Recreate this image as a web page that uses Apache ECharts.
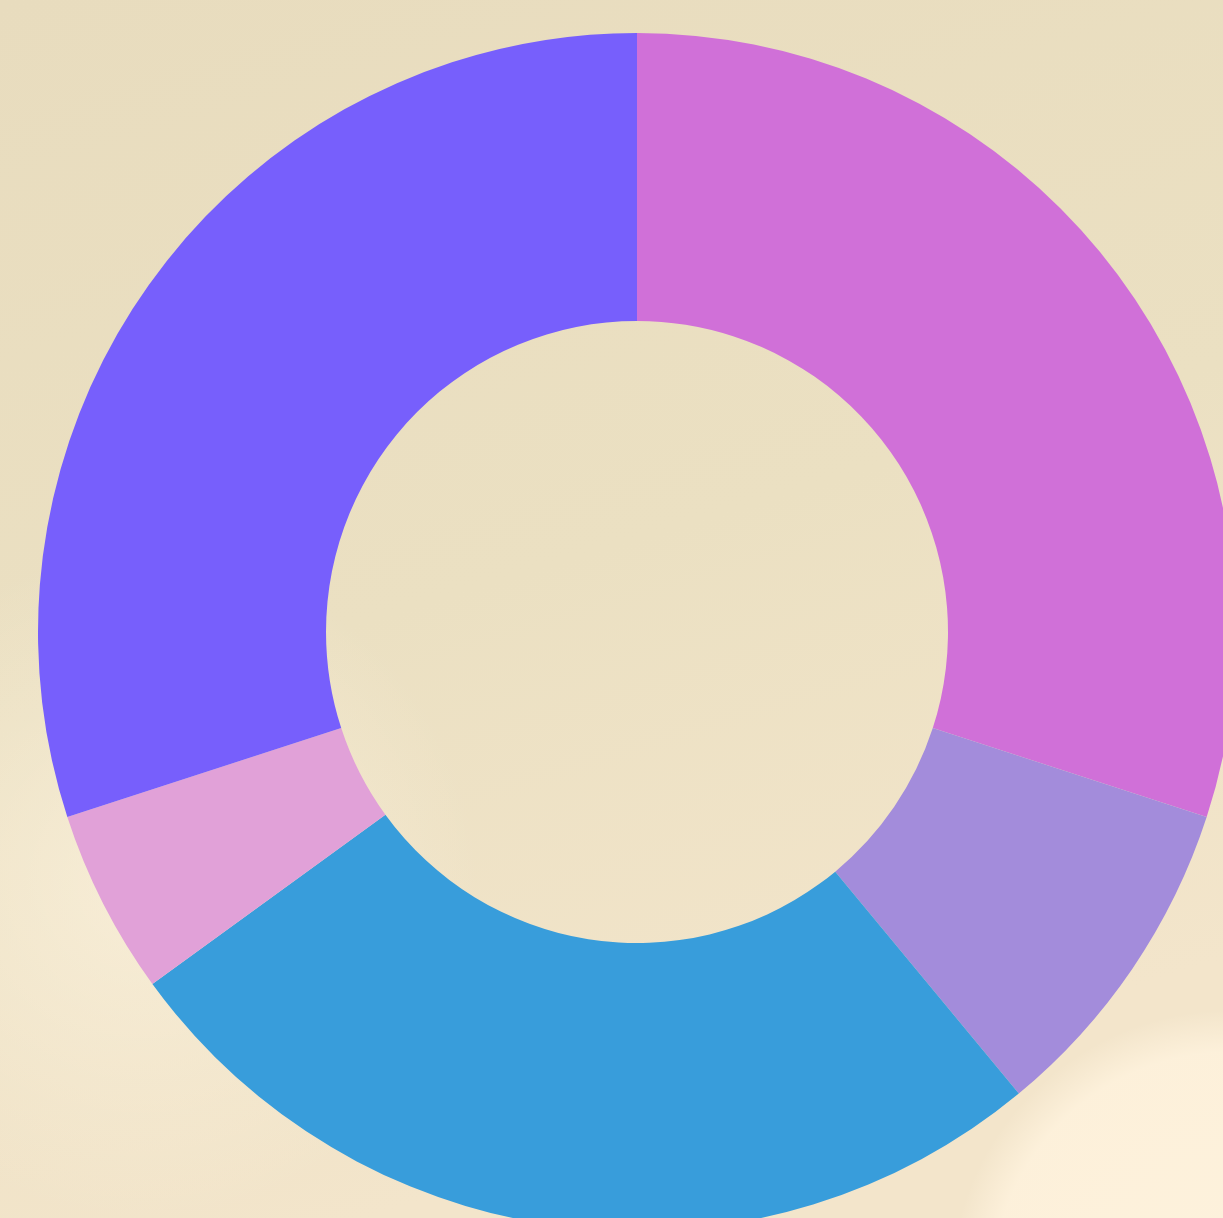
<!DOCTYPE html>
<html>
<head>
<meta charset="utf-8">
<style>
  html, body { margin: 0; padding: 0; width: 1223px; height: 1218px; overflow: hidden; }
  #chart { width: 1223px; height: 1218px; }
</style>
<script src="https://cdn.jsdelivr.net/npm/echarts@6/dist/echarts.min.js"></script>
</head>
<body>
<div id="chart"></div>
<script>
// 扇区名称与占比
const categories = ['A', 'B', 'C', 'D', 'E'];
const values = [30, 9, 26, 5, 30];
const colors = ['#D070D8', '#A38CDB', '#389DDB', '#E1A1D8', '#775FFC'];

const chart = echarts.init(document.getElementById('chart'));

const option = {
  backgroundColor: {
    type: 'linear', x: 0, y: 0, x2: 0.3, y2: 1,
    colorStops: [
      { offset: 0, color: '#E8DCBE' },
      { offset: 0.55, color: '#EBE0C2' },
      { offset: 1, color: '#F3E5CB' }
    ]
  },
  graphic: [
    {
      // 左下角淡色建筑的柔和近似
      type: 'rect',
      silent: true,
      shape: { x: 0, y: 480, width: 480, height: 738 },
      style: {
        fill: {
          type: 'radial', x: 0.3, y: 0.55, r: 0.7,
          colorStops: [
            { offset: 0, color: 'rgba(255,246,228,0.55)' },
            { offset: 1, color: 'rgba(255,246,228,0)' }
          ]
        }
      }
    },
    {
      // 右下角淡色块
      type: 'circle',
      silent: true,
      shape: { cx: 1230, cy: 1290, r: 280 },
      style: {
        fill: {
          type: 'radial', x: 0.5, y: 0.5, r: 0.5,
          colorStops: [
            { offset: 0, color: 'rgba(255,243,222,0.9)' },
            { offset: 0.85, color: 'rgba(255,243,222,0.8)' },
            { offset: 1, color: 'rgba(255,243,222,0)' }
          ]
        }
      }
    }
  ],
  series: [{
    type: 'pie',
    center: [637, 632],
    radius: [311, 599],
    startAngle: 90,
    clockwise: true,
    silent: true,
    label: { show: false },
    labelLine: { show: false },
    itemStyle: { borderWidth: 0 },
    data: categories.map((name, i) => ({
      name: name,
      value: values[i],
      itemStyle: { color: colors[i] }
    }))
  }]
};

chart.setOption(option);
</script>
</body>
</html>
